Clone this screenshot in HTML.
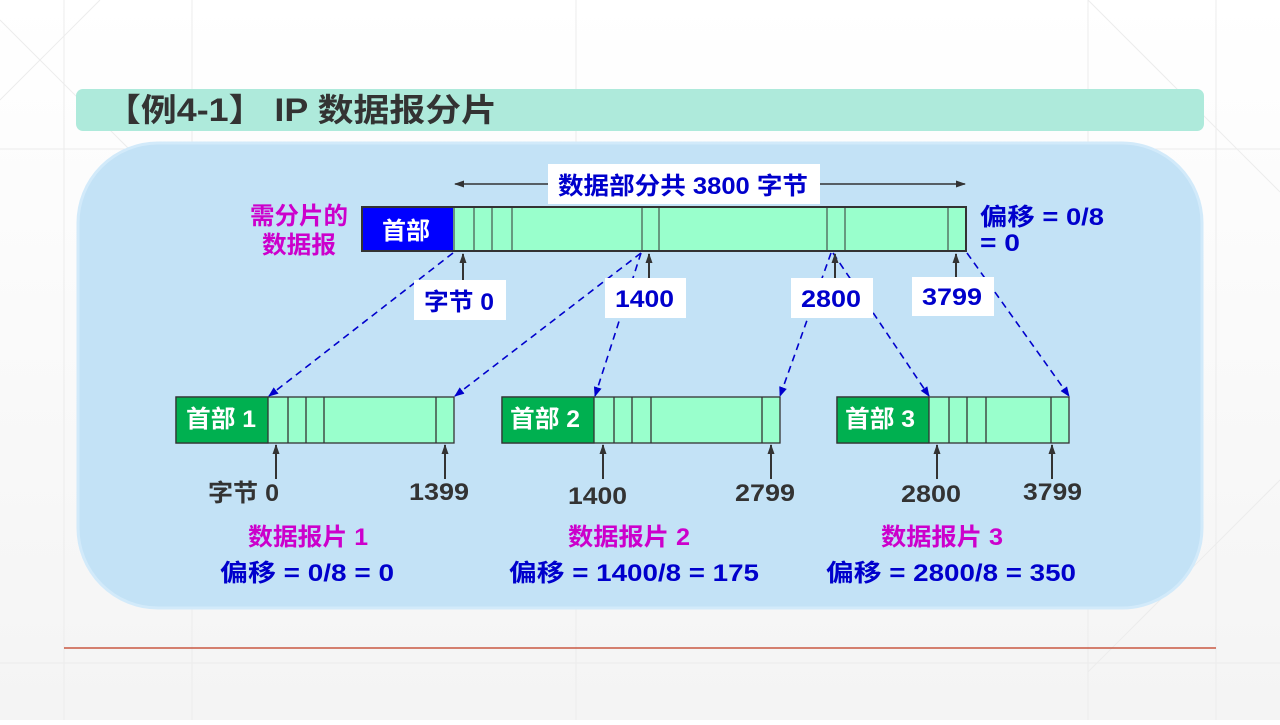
<!DOCTYPE html>
<html><head><meta charset="utf-8"><style>
html,body{margin:0;padding:0;}
body{width:1280px;height:720px;overflow:hidden;background:linear-gradient(#ffffff,#f4f4f4);}
svg text{font-family:"Liberation Sans","Noto Sans CJK SC",sans-serif;font-weight:bold;}
</style></head><body>
<svg width="1280" height="720" viewBox="0 0 1280 720" xmlns="http://www.w3.org/2000/svg">
<defs>
<marker id="ab" markerWidth="10" markerHeight="10" refX="9" refY="5" orient="auto" markerUnits="userSpaceOnUse"><path d="M0,1 L10,5 L0,9 z" fill="#0000cc"/></marker>
<marker id="ak" markerWidth="10" markerHeight="10" refX="9" refY="5" orient="auto" markerUnits="userSpaceOnUse"><path d="M0,1.5 L10,5 L0,8.5 z" fill="#333"/></marker>
</defs>
<g stroke="#ececec" stroke-width="1" fill="none">
<line x1="64" y1="0" x2="64" y2="720"/><line x1="192" y1="0" x2="192" y2="720"/><line x1="576" y1="0" x2="576" y2="720"/><line x1="1088" y1="0" x2="1088" y2="720"/><line x1="1216" y1="0" x2="1216" y2="720"/>
<line x1="0" y1="149" x2="1280" y2="149"/><line x1="0" y1="663" x2="1280" y2="663"/>
<line x1="0" y1="20" x2="192" y2="212"/><line x1="100" y1="0" x2="0" y2="100"/>
<line x1="1088" y1="0" x2="1280" y2="192"/><line x1="1280" y1="480" x2="1088" y2="672"/>
</g>
<rect x="76" y="89" width="1128" height="42" rx="7" fill="#aeeadb"/>
<text x="105" y="121" font-size="32" fill="#333" textLength="392" lengthAdjust="spacingAndGlyphs">【例4-1】 IP 数据报分片</text>
<rect x="78" y="143" width="1124" height="465" rx="80" fill="#c3e2f6" stroke="#d2eafa" stroke-width="3"/>
<line x1="64" y1="648" x2="1216" y2="648" stroke="#c0391f" stroke-width="1.2"/>

<line x1="548" y1="184" x2="455" y2="184" stroke="#333" stroke-width="1.5" marker-end="url(#ak)"/>
<line x1="820" y1="184" x2="965" y2="184" stroke="#333" stroke-width="1.5" marker-end="url(#ak)"/>
<rect x="548" y="164" width="272" height="40" fill="#fff"/>
<text x="558" y="194" font-size="24" fill="#0000cc" textLength="250" lengthAdjust="spacingAndGlyphs">数据部分共 3800 字节</text>

<text x="250" y="224" font-size="24" fill="#cc00cc" textLength="98" lengthAdjust="spacingAndGlyphs">需分片的</text>
<text x="262" y="253" font-size="24" fill="#cc00cc" textLength="74" lengthAdjust="spacingAndGlyphs">数据报</text>
<text x="980" y="225" font-size="24" fill="#0000cc" textLength="124" lengthAdjust="spacingAndGlyphs">偏移 = 0/8</text>
<text x="980" y="251" font-size="24" fill="#0000cc" textLength="40" lengthAdjust="spacingAndGlyphs">= 0</text>

<rect x="362" y="207" width="604" height="44" fill="#99ffcc" stroke="#333" stroke-width="2"/>
<rect x="363" y="208" width="90" height="42" fill="#0000ff"/>
<text x="382" y="239" font-size="24" fill="#fff" textLength="48" lengthAdjust="spacingAndGlyphs">首部</text>
<g stroke="#333" stroke-width="1">
<line x1="454" y1="207" x2="454" y2="251"/><line x1="474" y1="207" x2="474" y2="251"/><line x1="492" y1="207" x2="492" y2="251"/><line x1="512" y1="207" x2="512" y2="251"/>
<line x1="642" y1="207" x2="642" y2="251"/><line x1="659" y1="207" x2="659" y2="251"/><line x1="827" y1="207" x2="827" y2="251"/><line x1="845" y1="207" x2="845" y2="251"/><line x1="948" y1="207" x2="948" y2="251"/>
</g>

<g stroke="#0000cc" stroke-width="1.6" stroke-dasharray="7,5" fill="none">
<line x1="453" y1="253" x2="269" y2="396" marker-end="url(#ab)"/>
<line x1="641" y1="253" x2="455" y2="396" marker-end="url(#ab)"/>
<line x1="641" y1="253" x2="595" y2="396" marker-end="url(#ab)"/>
<line x1="831" y1="253" x2="780" y2="396" marker-end="url(#ab)"/>
<line x1="833" y1="253" x2="929" y2="396" marker-end="url(#ab)"/>
<line x1="967" y1="253" x2="1069" y2="396" marker-end="url(#ab)"/>
</g>

<g stroke="#333" stroke-width="2">
<line x1="463" y1="282" x2="463" y2="254" marker-end="url(#ak)"/>
<line x1="649" y1="278" x2="649" y2="254" marker-end="url(#ak)"/>
<line x1="835" y1="278" x2="835" y2="254" marker-end="url(#ak)"/>
<line x1="956" y1="277" x2="956" y2="254" marker-end="url(#ak)"/>
</g>
<rect x="414" y="280" width="92" height="40" fill="#fff"/>
<text x="424" y="310" font-size="24" fill="#0000cc" textLength="70" lengthAdjust="spacingAndGlyphs">字节 0</text>
<rect x="605" y="278" width="81" height="40" fill="#fff"/>
<text x="615" y="307" font-size="24" fill="#0000cc" textLength="59" lengthAdjust="spacingAndGlyphs">1400</text>
<rect x="791" y="278" width="82" height="40" fill="#fff"/>
<text x="801" y="307" font-size="24" fill="#0000cc" textLength="60" lengthAdjust="spacingAndGlyphs">2800</text>
<rect x="912" y="277" width="82" height="39" fill="#fff"/>
<text x="922" y="305" font-size="24" fill="#0000cc" textLength="60" lengthAdjust="spacingAndGlyphs">3799</text>

<g stroke="#333" stroke-width="1.3">
<rect x="176" y="397" width="278" height="46" fill="#99ffcc"/>
<rect x="176" y="397" width="92" height="46" fill="#00b050"/>
<line x1="288" y1="397" x2="288" y2="443"/><line x1="306" y1="397" x2="306" y2="443"/><line x1="324" y1="397" x2="324" y2="443"/><line x1="436" y1="397" x2="436" y2="443"/>
<rect x="502" y="397" width="278" height="46" fill="#99ffcc"/>
<rect x="502" y="397" width="92" height="46" fill="#00b050"/>
<line x1="614" y1="397" x2="614" y2="443"/><line x1="632" y1="397" x2="632" y2="443"/><line x1="651" y1="397" x2="651" y2="443"/><line x1="762" y1="397" x2="762" y2="443"/>
<rect x="837" y="397" width="232" height="46" fill="#99ffcc"/>
<rect x="837" y="397" width="92" height="46" fill="#00b050"/>
<line x1="949" y1="397" x2="949" y2="443"/><line x1="967" y1="397" x2="967" y2="443"/><line x1="986" y1="397" x2="986" y2="443"/><line x1="1051" y1="397" x2="1051" y2="443"/>
</g>
<text x="186" y="427" font-size="24" fill="#fff" textLength="70" lengthAdjust="spacingAndGlyphs">首部 1</text>
<text x="510" y="427" font-size="24" fill="#fff" textLength="70" lengthAdjust="spacingAndGlyphs">首部 2</text>
<text x="845" y="427" font-size="24" fill="#fff" textLength="70" lengthAdjust="spacingAndGlyphs">首部 3</text>

<g stroke="#333" stroke-width="2">
<line x1="276" y1="479" x2="276" y2="445" marker-end="url(#ak)"/>
<line x1="445" y1="479" x2="445" y2="445" marker-end="url(#ak)"/>
<line x1="603" y1="479" x2="603" y2="445" marker-end="url(#ak)"/>
<line x1="771" y1="479" x2="771" y2="445" marker-end="url(#ak)"/>
<line x1="937" y1="479" x2="937" y2="445" marker-end="url(#ak)"/>
<line x1="1052" y1="479" x2="1052" y2="445" marker-end="url(#ak)"/>
</g>
<g font-size="24" fill="#333">
<text x="208" y="501" textLength="71" lengthAdjust="spacingAndGlyphs">字节 0</text>
<text x="409" y="500" textLength="60" lengthAdjust="spacingAndGlyphs">1399</text>
<text x="568" y="504" textLength="59" lengthAdjust="spacingAndGlyphs">1400</text>
<text x="735" y="501" textLength="60" lengthAdjust="spacingAndGlyphs">2799</text>
<text x="901" y="502" textLength="60" lengthAdjust="spacingAndGlyphs">2800</text>
<text x="1023" y="500" textLength="59" lengthAdjust="spacingAndGlyphs">3799</text>
</g>
<g font-size="24">
<text x="248" y="545" fill="#cc00cc" textLength="120" lengthAdjust="spacingAndGlyphs">数据报片 1</text>
<text x="220" y="581" fill="#0000cc" textLength="174" lengthAdjust="spacingAndGlyphs">偏移 = 0/8 = 0</text>
<text x="568" y="545" fill="#cc00cc" textLength="122" lengthAdjust="spacingAndGlyphs">数据报片 2</text>
<text x="509" y="581" fill="#0000cc" textLength="250" lengthAdjust="spacingAndGlyphs">偏移 = 1400/8 = 175</text>
<text x="881" y="545" fill="#cc00cc" textLength="122" lengthAdjust="spacingAndGlyphs">数据报片 3</text>
<text x="826" y="581" fill="#0000cc" textLength="250" lengthAdjust="spacingAndGlyphs">偏移 = 2800/8 = 350</text>
</g>
</svg>
</body></html>
